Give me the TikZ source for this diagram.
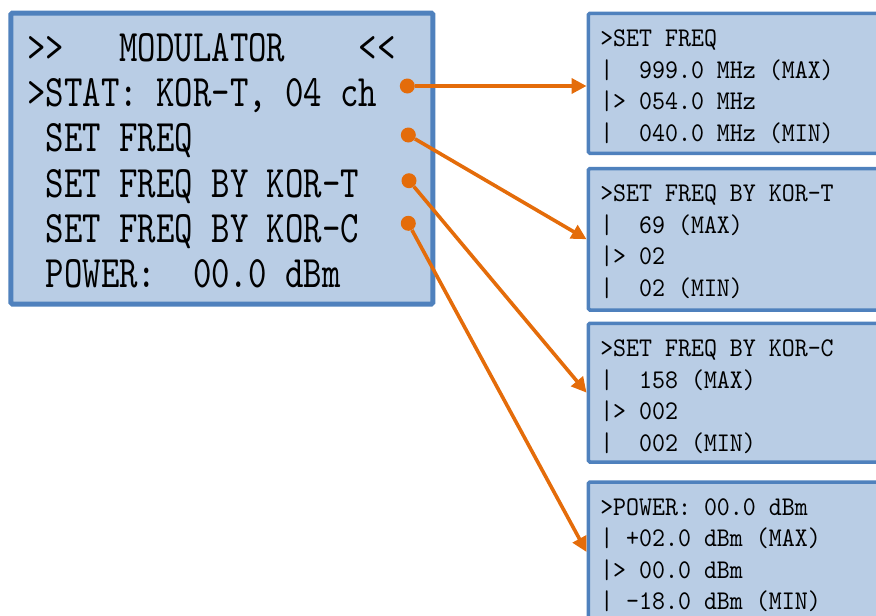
\documentclass[tikz,border=0pt]{standalone}
\usepackage{fontspec}
\newfontfamily\lcdbig[FakeStretch=0.78]{lmmono10-regular.otf}
\newfontfamily\lcdsmall[FakeStretch=0.915]{lmmono10-regular.otf}
\definecolor{lcdfill}{HTML}{B9CDE5}
\definecolor{lcdedge}{HTML}{4F81BD}
\definecolor{ptrorange}{HTML}{E46C0A}
\usetikzlibrary{arrows.meta,positioning}

\begin{document}
\begin{tikzpicture}[x=1pt,y=1pt,
  screen/.style={draw=lcdedge,line width=5pt,fill=lcdfill,rounded corners=1.5pt,inner sep=0pt},
  sub/.style={draw=lcdedge,line width=3.5pt,fill=lcdfill,rounded corners=1.5pt,inner sep=0pt,
    minimum width=320pt},
  bigtxt/.style={font=\lcdbig\fontsize{45}{45.1}\selectfont,align=left,inner sep=0pt},
  smalltxt/.style={font=\lcdsmall\fontsize{27}{31.5}\selectfont,align=left,inner sep=0pt},
  knob/.style={circle,fill=ptrorange,inner sep=0pt,minimum size=15pt},
  ptr/.style={-{Triangle[length=15pt,width=15pt]},line width=3.6pt,ptrorange}]
  \clip (0,0) rectangle (876,-616);
  % main menu screen
  \node[screen,minimum width=422pt,minimum height=291pt] (menu) at (221.9,-158.5) {};
  \node[bigtxt,below right=23pt and 18.7pt of menu.north west] (menutxt)
    {>>~~~MODULATOR~~~~<<\\>STAT:~KOR-T,~04~ch\\~SET~FREQ\\~SET~FREQ~BY~KOR-T\\
     ~SET~FREQ~BY~KOR-C\\~POWER:~~00.0~dBm};
  % sub screens
  \node[sub,minimum height=140pt] (freq) at (748.3,-83.3) {};
  \node[sub,minimum height=141.5pt,below=11.7pt of freq] (kort) {};
  \node[sub,minimum height=138.7pt,below=9.8pt of kort] (korc) {};
  \node[sub,minimum height=140pt,below=16.5pt of korc] (power) {};
  \node[smalltxt,below right=18pt and 13.5pt of freq.north west] (freqtxt)
    {>SET~FREQ\\|~~999.0~MHz~(MAX)\\|>~054.0~MHz\\|~~040.0~MHz~(MIN)};
  \node[smalltxt,below right=18pt and 13.5pt of kort.north west] (korttxt)
    {>SET~FREQ~BY~KOR-T\\|~~69~(MAX)\\|>~02\\|~~02~(MIN)};
  \node[smalltxt,below right=18pt and 13.5pt of korc.north west] (korctxt)
    {>SET~FREQ~BY~KOR-C\\|~~158~(MAX)\\|>~002\\|~~002~(MIN)};
  \node[smalltxt,below right=18pt and 13.5pt of power.north west] (powertxt)
    {>POWER:~00.0~dBm\\|~+02.0~dBm~(MAX)\\|>~00.0~dBm\\|~-18.0~dBm~(MIN)};
  % pointers
  \node[knob] (k1) at (407.3,-86) {};
  \node[knob] (k2) at (408.3,-135) {};
  \node[knob] (k3) at (409,-180.7) {};
  \node[knob] (k4) at (408.3,-223.3) {};
  \draw[ptr] (k1) -- (k1 -| freq.west);
  \draw[ptr] (k2) -- (kort.west);
  \draw[ptr] (k3) -- (korc.west);
  \draw[ptr] (k4) -- (power.west);
\end{tikzpicture}
\end{document}
